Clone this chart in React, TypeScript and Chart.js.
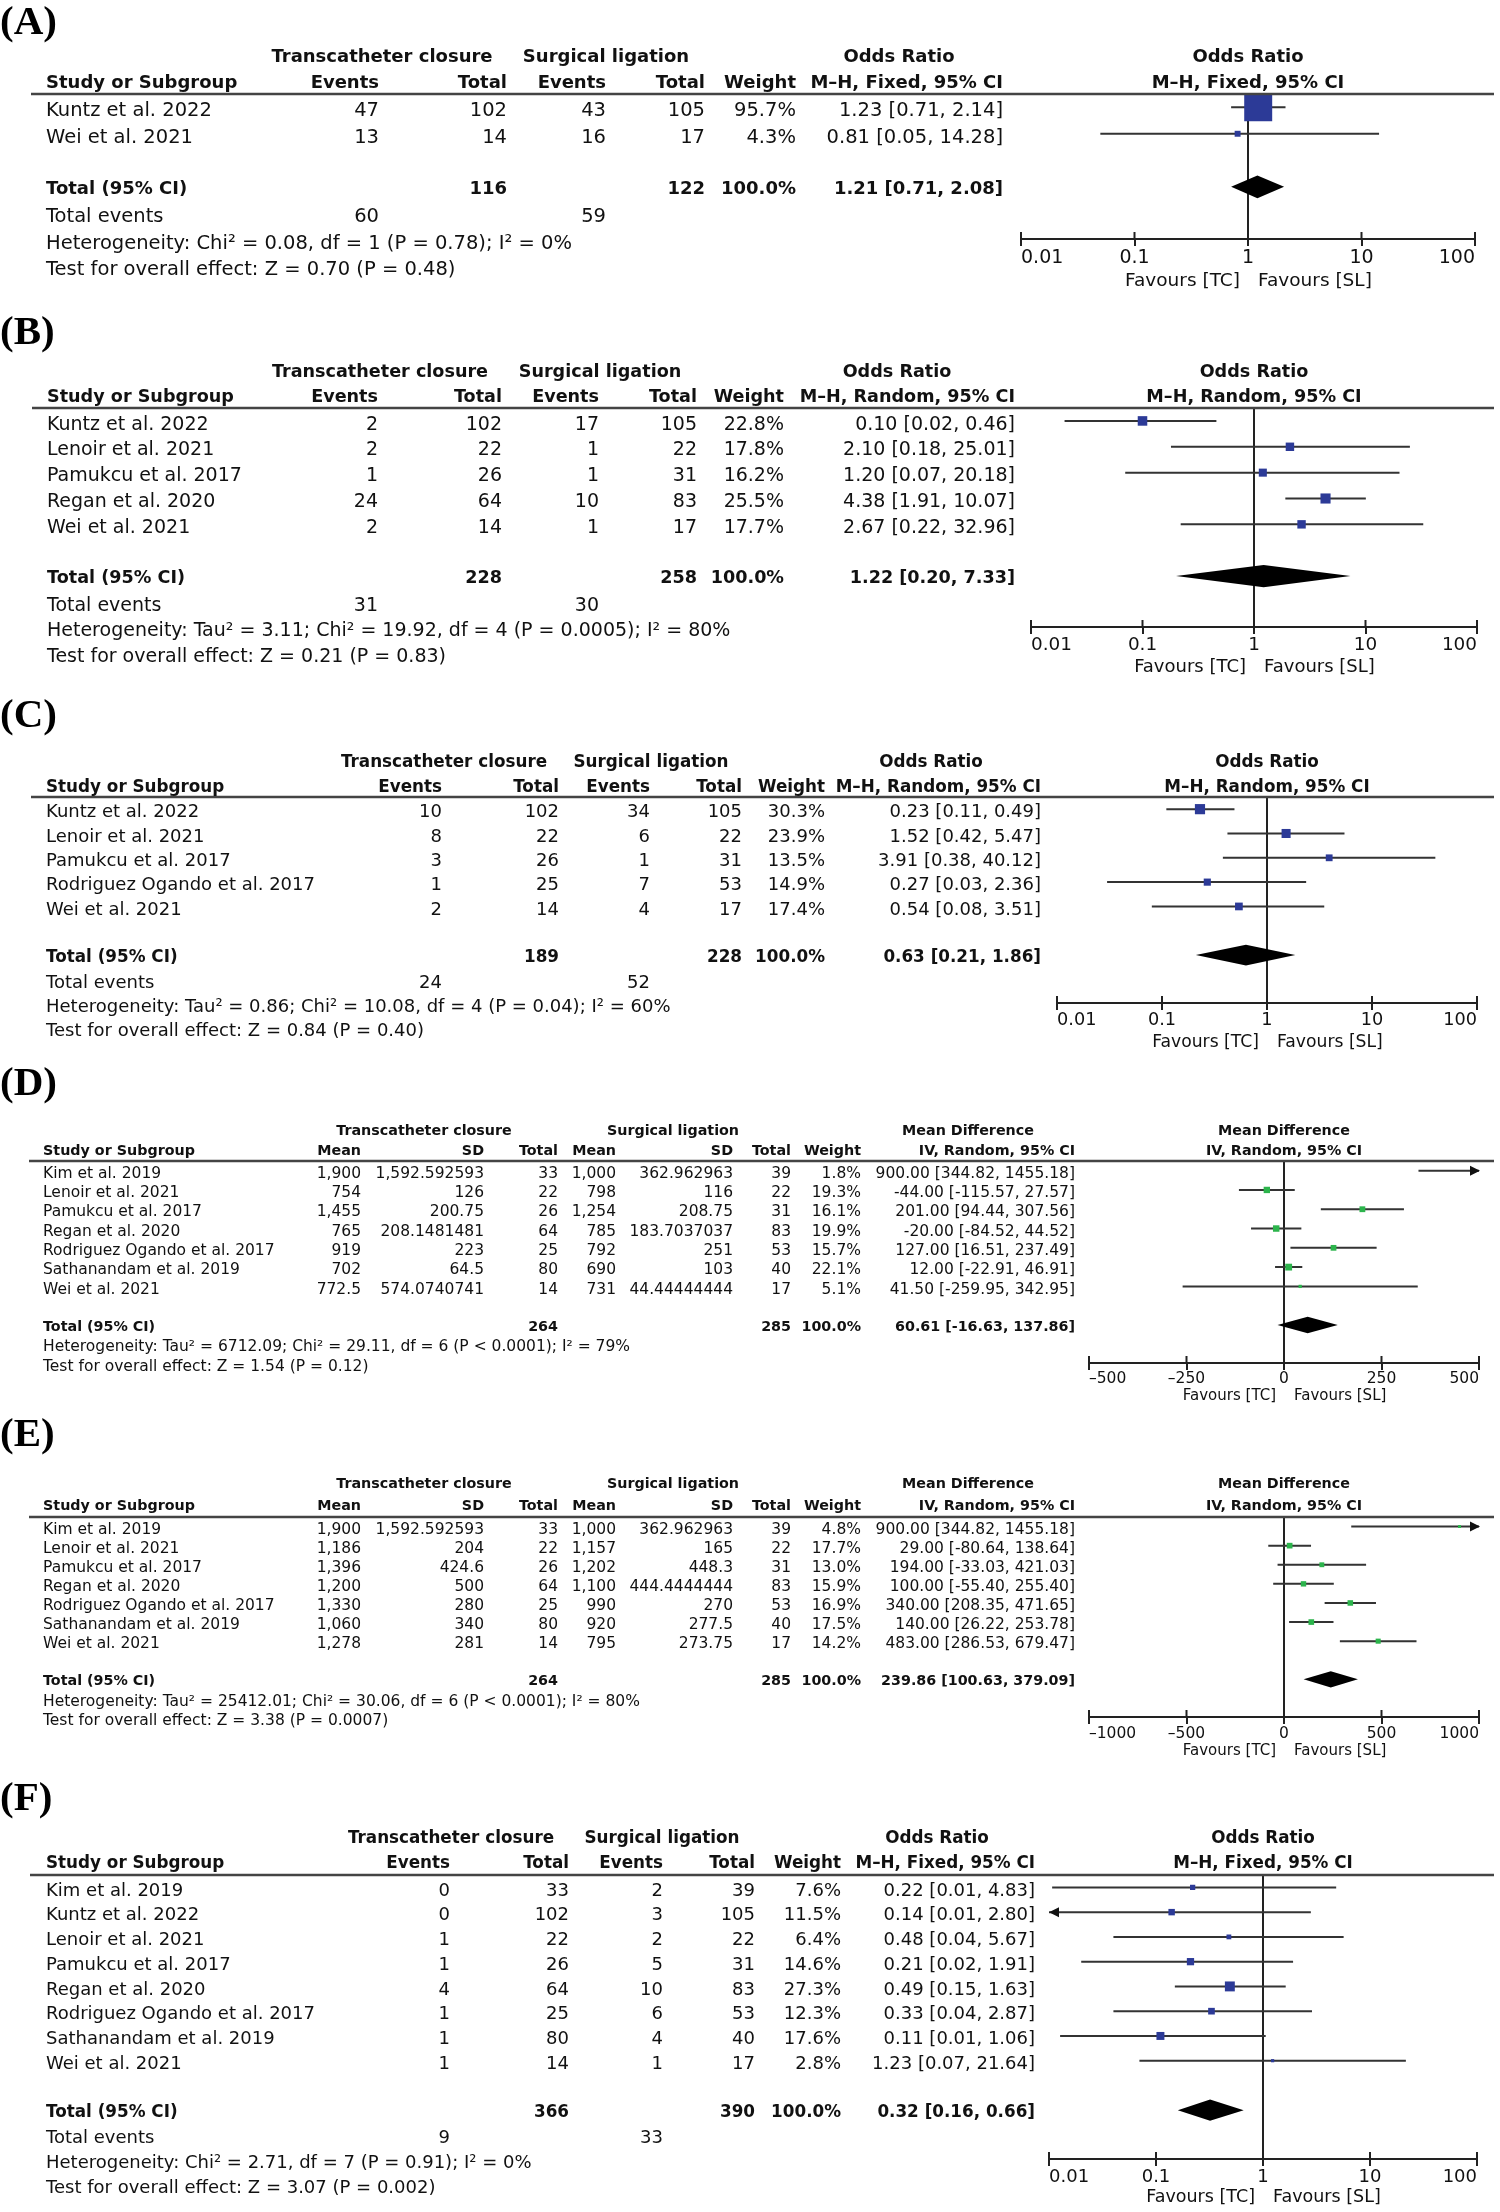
import React, { useEffect, useRef } from "react";
import { Chart, registerables } from "chart.js";
Chart.register(...registerables);

const SANS = "'DejaVu Sans', 'Noto Sans', sans-serif";
const SERIF = "'Liberation Serif', 'DejaVu Serif', serif";
const INK = "#111111";
const BLUE = "#2c3a97";
const GREEN = "#2cb44c";

// ---------- axis ticks ----------
const OR_TICKS = [0.01, 0.1, 1, 10, 100];
const D_TICKS = [-500, -250, 0, 250, 500];
const E_TICKS = [-1000, -500, 0, 500, 1000];

// ---------- Panel A ----------
const A_STUDY = ["Kuntz et al. 2022", "Wei et al. 2021"];
const A_EV_TC = [47, 13];
const A_N_TC = [102, 14];
const A_EV_SL = [43, 16];
const A_N_SL = [105, 17];
const A_WEIGHT = [95.7, 4.3];
const A_OR = [1.23, 0.81];
const A_LO = [0.71, 0.05];
const A_HI = [2.14, 14.28];
const A_TOTAL_N = [116, 122];
const A_TOTAL_OR = [1.21, 0.71, 2.08];
const A_TOTAL_EVENTS = [60, 59];
const A_HET = "Heterogeneity: Chi\u00b2 = 0.08, df = 1 (P = 0.78); I\u00b2 = 0%";
const A_TEST = "Test for overall effect: Z = 0.70 (P = 0.48)";

// ---------- Panel B ----------
const B_STUDY = ["Kuntz et al. 2022", "Lenoir et al. 2021", "Pamukcu et al. 2017", "Regan et al. 2020", "Wei et al. 2021"];
const B_EV_TC = [2, 2, 1, 24, 2];
const B_N_TC = [102, 22, 26, 64, 14];
const B_EV_SL = [17, 1, 1, 10, 1];
const B_N_SL = [105, 22, 31, 83, 17];
const B_WEIGHT = [22.8, 17.8, 16.2, 25.5, 17.7];
const B_OR = [0.1, 2.1, 1.2, 4.38, 2.67];
const B_LO = [0.02, 0.18, 0.07, 1.91, 0.22];
const B_HI = [0.46, 25.01, 20.18, 10.07, 32.96];
const B_TOTAL_N = [228, 258];
const B_TOTAL_OR = [1.22, 0.2, 7.33];
const B_TOTAL_EVENTS = [31, 30];
const B_HET = "Heterogeneity: Tau\u00b2 = 3.11; Chi\u00b2 = 19.92, df = 4 (P = 0.0005); I\u00b2 = 80%";
const B_TEST = "Test for overall effect: Z = 0.21 (P = 0.83)";

// ---------- Panel C ----------
const C_STUDY = ["Kuntz et al. 2022", "Lenoir et al. 2021", "Pamukcu et al. 2017", "Rodriguez Ogando et al. 2017", "Wei et al. 2021"];
const C_EV_TC = [10, 8, 3, 1, 2];
const C_N_TC = [102, 22, 26, 25, 14];
const C_EV_SL = [34, 6, 1, 7, 4];
const C_N_SL = [105, 22, 31, 53, 17];
const C_WEIGHT = [30.3, 23.9, 13.5, 14.9, 17.4];
const C_OR = [0.23, 1.52, 3.91, 0.27, 0.54];
const C_LO = [0.11, 0.42, 0.38, 0.03, 0.08];
const C_HI = [0.49, 5.47, 40.12, 2.36, 3.51];
const C_TOTAL_N = [189, 228];
const C_TOTAL_OR = [0.63, 0.21, 1.86];
const C_TOTAL_EVENTS = [24, 52];
const C_HET = "Heterogeneity: Tau\u00b2 = 0.86; Chi\u00b2 = 10.08, df = 4 (P = 0.04); I\u00b2 = 60%";
const C_TEST = "Test for overall effect: Z = 0.84 (P = 0.40)";

// ---------- Panel D ----------
const D_STUDY = ["Kim et al. 2019", "Lenoir et al. 2021", "Pamukcu et al. 2017", "Regan et al. 2020", "Rodriguez Ogando et al. 2017", "Sathanandam et al. 2019", "Wei et al. 2021"];
const D_MEAN_TC = ["1,900", "754", "1,455", "765", "919", "702", "772.5"];
const D_SD_TC = ["1,592.592593", "126", "200.75", "208.1481481", "223", "64.5", "574.0740741"];
const D_N_TC = [33, 22, 26, 64, 25, 80, 14];
const D_MEAN_SL = ["1,000", "798", "1,254", "785", "792", "690", "731"];
const D_SD_SL = ["362.962963", "116", "208.75", "183.7037037", "251", "103", "44.44444444"];
const D_N_SL = [39, 22, 31, 83, 53, 40, 17];
const D_WEIGHT = [1.8, 19.3, 16.1, 19.9, 15.7, 22.1, 5.1];
const D_MD = [900, -44, 201, -20, 127, 12, 41.5];
const D_LO = [344.82, -115.57, 94.44, -84.52, 16.51, -22.91, -259.95];
const D_HI = [1455.18, 27.57, 307.56, 44.52, 237.49, 46.91, 342.95];
const D_TOTAL_N = [264, 285];
const D_TOTAL_MD = [60.61, -16.63, 137.86];
const D_HET = "Heterogeneity: Tau\u00b2 = 6712.09; Chi\u00b2 = 29.11, df = 6 (P < 0.0001); I\u00b2 = 79%";
const D_TEST = "Test for overall effect: Z = 1.54 (P = 0.12)";

// ---------- Panel E ----------
const E_STUDY = ["Kim et al. 2019", "Lenoir et al. 2021", "Pamukcu et al. 2017", "Regan et al. 2020", "Rodriguez Ogando et al. 2017", "Sathanandam et al. 2019", "Wei et al. 2021"];
const E_MEAN_TC = ["1,900", "1,186", "1,396", "1,200", "1,330", "1,060", "1,278"];
const E_SD_TC = ["1,592.592593", "204", "424.6", "500", "280", "340", "281"];
const E_N_TC = [33, 22, 26, 64, 25, 80, 14];
const E_MEAN_SL = ["1,000", "1,157", "1,202", "1,100", "990", "920", "795"];
const E_SD_SL = ["362.962963", "165", "448.3", "444.4444444", "270", "277.5", "273.75"];
const E_N_SL = [39, 22, 31, 83, 53, 40, 17];
const E_WEIGHT = [4.8, 17.7, 13.0, 15.9, 16.9, 17.5, 14.2];
const E_MD = [900, 29, 194, 100, 340, 140, 483];
const E_LO = [344.82, -80.64, -33.03, -55.4, 208.35, 26.22, 286.53];
const E_HI = [1455.18, 138.64, 421.03, 255.4, 471.65, 253.78, 679.47];
const E_TOTAL_N = [264, 285];
const E_TOTAL_MD = [239.86, 100.63, 379.09];
const E_HET = "Heterogeneity: Tau\u00b2 = 25412.01; Chi\u00b2 = 30.06, df = 6 (P < 0.0001); I\u00b2 = 80%";
const E_TEST = "Test for overall effect: Z = 3.38 (P = 0.0007)";

// ---------- Panel F ----------
const F_STUDY = ["Kim et al. 2019", "Kuntz et al. 2022", "Lenoir et al. 2021", "Pamukcu et al. 2017", "Regan et al. 2020", "Rodriguez Ogando et al. 2017", "Sathanandam et al. 2019", "Wei et al. 2021"];
const F_EV_TC = [0, 0, 1, 1, 4, 1, 1, 1];
const F_N_TC = [33, 102, 22, 26, 64, 25, 80, 14];
const F_EV_SL = [2, 3, 2, 5, 10, 6, 4, 1];
const F_N_SL = [39, 105, 22, 31, 83, 53, 40, 17];
const F_WEIGHT = [7.6, 11.5, 6.4, 14.6, 27.3, 12.3, 17.6, 2.8];
const F_OR = [0.22, 0.14, 0.48, 0.21, 0.49, 0.33, 0.11, 1.23];
const F_LO = [0.0107, 0.007, 0.04, 0.02, 0.15, 0.04, 0.0127, 0.07];
const F_HI = [4.83, 2.8, 5.67, 1.91, 1.63, 2.87, 1.06, 21.64];
const F_TOTAL_N = [366, 390];
const F_TOTAL_OR = [0.32, 0.16, 0.66];
const F_TOTAL_EVENTS = [9, 33];
const F_HET = "Heterogeneity: Chi\u00b2 = 2.71, df = 7 (P = 0.91); I\u00b2 = 0%";
const F_TEST = "Test for overall effect: Z = 3.07 (P = 0.002)";

// ---------- builders ----------
const ciText = (e: number, l: number, h: number) => `${e.toFixed(2)} [${l.toFixed(2)}, ${h.toFixed(2)}]`;
const pct = (w: number) => `${w.toFixed(1)}%`;

function binPanel(sub: string, studies: string[], ev1: number[], n1: number[], ev2: number[], n2: number[], w: number[], est: number[], lo: number[], hi: number[], totN: number[], tot: number[], totEv: number[], het: string, test: string) {
  return {
    kind: "bin",
    effectName: "Odds Ratio",
    effectSub: sub,
    headers: ["Events", "Total", "Events", "Total", "Weight", sub],
    studies,
    cells: studies.map((_, i) => [String(ev1[i]), String(n1[i]), String(ev2[i]), String(n2[i]), pct(w[i]), ciText(est[i], lo[i], hi[i])]),
    weight: w, est, lo, hi,
    totalCells: [null, String(totN[0]), null, String(totN[1]), "100.0%", ciText(tot[0], tot[1], tot[2])],
    total: tot,
    totalEvents: [String(totEv[0]), null, String(totEv[1]), null, null, null],
    het, test,
    ticks: OR_TICKS,
  };
}

function contPanel(studies: string[], m1: string[], s1: string[], n1: number[], m2: string[], s2: string[], n2: number[], w: number[], est: number[], lo: number[], hi: number[], totN: number[], tot: number[], het: string, test: string, ticks: number[]) {
  const sub = "IV, Random, 95% CI";
  return {
    kind: "cont",
    effectName: "Mean Difference",
    effectSub: sub,
    headers: ["Mean", "SD", "Total", "Mean", "SD", "Total", "Weight", sub],
    studies,
    cells: studies.map((_, i) => [m1[i], s1[i], String(n1[i]), m2[i], s2[i], String(n2[i]), pct(w[i]), ciText(est[i], lo[i], hi[i])]),
    weight: w, est, lo, hi,
    totalCells: [null, null, String(totN[0]), null, null, String(totN[1]), "100.0%", ciText(tot[0], tot[1], tot[2])],
    total: tot,
    totalEvents: null,
    het, test,
    ticks,
  };
}

const DATA_A = binPanel("M\u2013H, Fixed, 95% CI", A_STUDY, A_EV_TC, A_N_TC, A_EV_SL, A_N_SL, A_WEIGHT, A_OR, A_LO, A_HI, A_TOTAL_N, A_TOTAL_OR, A_TOTAL_EVENTS, A_HET, A_TEST);
const DATA_B = binPanel("M\u2013H, Random, 95% CI", B_STUDY, B_EV_TC, B_N_TC, B_EV_SL, B_N_SL, B_WEIGHT, B_OR, B_LO, B_HI, B_TOTAL_N, B_TOTAL_OR, B_TOTAL_EVENTS, B_HET, B_TEST);
const DATA_C = binPanel("M\u2013H, Random, 95% CI", C_STUDY, C_EV_TC, C_N_TC, C_EV_SL, C_N_SL, C_WEIGHT, C_OR, C_LO, C_HI, C_TOTAL_N, C_TOTAL_OR, C_TOTAL_EVENTS, C_HET, C_TEST);
const DATA_D = contPanel(D_STUDY, D_MEAN_TC, D_SD_TC, D_N_TC, D_MEAN_SL, D_SD_SL, D_N_SL, D_WEIGHT, D_MD, D_LO, D_HI, D_TOTAL_N, D_TOTAL_MD, D_HET, D_TEST, D_TICKS);
const DATA_E = contPanel(E_STUDY, E_MEAN_TC, E_SD_TC, E_N_TC, E_MEAN_SL, E_SD_SL, E_N_SL, E_WEIGHT, E_MD, E_LO, E_HI, E_TOTAL_N, E_TOTAL_MD, E_HET, E_TEST, E_TICKS);
const DATA_F = binPanel("M\u2013H, Fixed, 95% CI", F_STUDY, F_EV_TC, F_N_TC, F_EV_SL, F_N_SL, F_WEIGHT, F_OR, F_LO, F_HI, F_TOTAL_N, F_TOTAL_OR, F_TOTAL_EVENTS, F_HET, F_TEST);

// ---------- layouts (positions & styles) ----------
const COLS_DE = [361, 484, 558, 616, 733, 791, 861, 1075];
const LAYOUTS: any[] = [
  { label: "(A)", labelY: 34, top: 0, height: 300, lineY: 94, axisY: 239, plotLeft: 1021, plotRight: 1475, h1: 62, h2: 88, studyX: 46, lineLeft: 31, cols: [379, 507, 606, 705, 796, 1003], centers: [382, 606, 899], fs: 19.5, bfs: 18, tfs: 19, ffs: 18.5, tickY: 261, favY: 286, sq: 2.86, color: BLUE },
  { label: "(B)", labelY: 344, top: 300, height: 390, lineY: 408, axisY: 627, plotLeft: 1031, plotRight: 1477, h1: 377, h2: 402, studyX: 47, lineLeft: 32, cols: [378, 502, 599, 697, 784, 1015], centers: [380, 600, 897], fs: 19, bfs: 17.6, tfs: 18.4, ffs: 18, tickY: 648, favY: 672, sq: 2.0, color: BLUE },
  { label: "(C)", labelY: 727, top: 690, height: 370, lineY: 797, axisY: 1003, plotLeft: 1057, plotRight: 1477, h1: 767, h2: 792, studyX: 46, lineLeft: 31, cols: [442, 559, 650, 742, 825, 1041], centers: [444, 651, 931], fs: 18, bfs: 16.8, tfs: 17.7, ffs: 17.2, tickY: 1023, favY: 1047, sq: 1.85, color: BLUE },
  { label: "(D)", labelY: 1095, top: 1060, height: 355, lineY: 1161, axisY: 1363, plotLeft: 1089, plotRight: 1479, h1: 1135, h2: 1155, studyX: 43, lineLeft: 29, cols: COLS_DE, centers: [424, 673, 968], fs: 15.5, bfs: 14.3, tfs: 15.5, ffs: 15, tickY: 1382, favY: 1400, sq: 1.45, color: GREEN },
  { label: "(E)", labelY: 1446, top: 1415, height: 360, lineY: 1517, axisY: 1717, plotLeft: 1089, plotRight: 1479, h1: 1488, h2: 1510, studyX: 43, lineLeft: 29, cols: COLS_DE, centers: [424, 673, 968], fs: 15.5, bfs: 14.3, tfs: 15.5, ffs: 15, tickY: 1737, favY: 1755, sq: 1.35, color: GREEN },
  { label: "(F)", labelY: 1810, top: 1775, height: 437, lineY: 1875, axisY: 2159, plotLeft: 1049, plotRight: 1477, h1: 1843, h2: 1868, studyX: 46, lineLeft: 30, cols: [450, 569, 663, 755, 841, 1035], centers: [451, 662, 937], fs: 18, bfs: 16.8, tfs: 18, ffs: 17.5, tickY: 2181, favY: 2202, sq: 1.9, color: BLUE },
];
const DATASETS: any[] = [DATA_A, DATA_B, DATA_C, DATA_D, DATA_E, DATA_F];

function drawText(ctx: CanvasRenderingContext2D, s: string, x: number, y: number, size: number, bold: boolean, align: CanvasTextAlign) {
  ctx.font = `${bold ? "bold " : ""}${size}px ${SANS}`;
  ctx.textAlign = align;
  ctx.textBaseline = "alphabetic";
  ctx.fillStyle = INK;
  ctx.fillText(s, x, y);
}

function buildChart(canvas: HTMLCanvasElement, L: any, D: any) {
  const n = D.studies.length;
  const totIdx = n + 1;
  const yMax = totIdx + 1.97;
  const isLog = D.kind === "bin";
  const ticks: number[] = D.ticks;
  const xmin = ticks[0];
  const xmax = ticks[ticks.length - 1];
  const nullVal = isLog ? 1 : 0;

  const ciPts: any[] = [];
  for (let i = 0; i < n; i++) {
    ciPts.push({ x: D.lo[i], y: i }, { x: D.hi[i], y: i }, { x: D.hi[i], y: null });
  }
  const shown = D.est.map((_: number, i: number) => i).filter((i: number) => D.est[i] >= xmin && D.est[i] <= xmax);
  const sqPts = shown.map((i: number) => ({ x: D.est[i], y: i }));
  const sqRad = shown.map((i: number) => (L.sq * Math.sqrt(D.weight[i])) / Math.SQRT2);
  const T = L.top;
  const tickPad = L.tickY - L.axisY - 7 - Math.round(0.76 * L.tfs);

  const plugin = {
    id: "forest",
    beforeDatasetsDraw(chart: any) {
      const { ctx, chartArea } = chart;
      const x0 = chart.scales.x.getPixelForValue(nullVal);
      ctx.save();
      ctx.strokeStyle = "#222";
      ctx.lineWidth = 2;
      ctx.beginPath();
      ctx.moveTo(x0, chartArea.top);
      ctx.lineTo(x0, chartArea.bottom);
      ctx.stroke();
      ctx.restore();
    },
    afterDatasetsDraw(chart: any) {
      const { ctx, chartArea } = chart;
      const xs = chart.scales.x;
      const ys = chart.scales.y;
      const spacing = Math.abs(ys.getPixelForValue(1) - ys.getPixelForValue(0));
      ctx.save();
      ctx.fillStyle = "#111";
      for (let i = 0; i < n; i++) {
        const y = ys.getPixelForValue(i);
        if (D.hi[i] > xmax) {
          const tip = chartArea.right + 1;
          ctx.beginPath();
          ctx.moveTo(tip, y);
          ctx.lineTo(tip - 10, y - 5);
          ctx.lineTo(tip - 10, y + 5);
          ctx.closePath();
          ctx.fill();
        }
        if (D.lo[i] < xmin) {
          const tip = chartArea.left;
          ctx.beginPath();
          ctx.moveTo(tip, y);
          ctx.lineTo(tip + 10, y - 5);
          ctx.lineTo(tip + 10, y + 5);
          ctx.closePath();
          ctx.fill();
        }
      }
      const yd = ys.getPixelForValue(totIdx);
      const h = 0.43 * spacing;
      ctx.fillStyle = "#000";
      ctx.beginPath();
      ctx.moveTo(xs.getPixelForValue(D.total[1]), yd);
      ctx.lineTo(xs.getPixelForValue(D.total[0]), yd - h);
      ctx.lineTo(xs.getPixelForValue(D.total[2]), yd);
      ctx.lineTo(xs.getPixelForValue(D.total[0]), yd + h);
      ctx.closePath();
      ctx.fill();
      ctx.restore();
    },
    afterDraw(chart: any) {
      const { ctx, chartArea } = chart;
      const xs = chart.scales.x;
      const ys = chart.scales.y;
      const yp = (i: number) => ys.getPixelForValue(i);
      const x0 = xs.getPixelForValue(nullVal);
      ctx.save();
      ctx.font = `bold 41px ${SERIF}`;
      ctx.textAlign = "left";
      ctx.textBaseline = "alphabetic";
      ctx.fillStyle = "#000";
      ctx.fillText(L.label, 0, L.labelY - T);
      ctx.strokeStyle = "#444";
      ctx.lineWidth = 2.5;
      ctx.beginPath();
      ctx.moveTo(L.lineLeft, chartArea.top);
      ctx.lineTo(1494, chartArea.top);
      ctx.stroke();
      ctx.strokeStyle = "#222";
      ctx.lineWidth = 2;
      ticks.forEach((t) => {
        const x = xs.getPixelForValue(t);
        ctx.beginPath();
        ctx.moveTo(x, chartArea.bottom);
        ctx.lineTo(x, chartArea.bottom - 7);
        ctx.stroke();
      });
      const h1 = L.h1 - T;
      const h2 = L.h2 - T;
      drawText(ctx, "Transcatheter closure", L.centers[0], h1, L.bfs, true, "center");
      drawText(ctx, "Surgical ligation", L.centers[1], h1, L.bfs, true, "center");
      drawText(ctx, D.effectName, L.centers[2], h1, L.bfs, true, "center");
      drawText(ctx, D.effectName, x0, h1, L.bfs, true, "center");
      drawText(ctx, "Study or Subgroup", L.studyX, h2, L.bfs, true, "left");
      D.headers.forEach((hd: string, k: number) => drawText(ctx, hd, L.cols[k], h2, L.bfs, true, "right"));
      drawText(ctx, D.effectSub, x0, h2, L.bfs, true, "center");
      const off = 0.4 * L.fs + 1;
      D.studies.forEach((s: string, i: number) => {
        const y = yp(i) + off;
        drawText(ctx, s, L.studyX, y, L.fs, false, "left");
        D.cells[i].forEach((c: string, k: number) => drawText(ctx, c, L.cols[k], y, L.fs, false, "right"));
      });
      let r = totIdx;
      let y = yp(r) + off - 1.5;
      drawText(ctx, "Total (95% CI)", L.studyX, y, L.bfs, true, "left");
      D.totalCells.forEach((c: string | null, k: number) => {
        if (c) drawText(ctx, c, L.cols[k], y, L.bfs, true, "right");
      });
      r++;
      if (D.totalEvents) {
        y = yp(r) + off;
        drawText(ctx, "Total events", L.studyX, y, L.fs, false, "left");
        D.totalEvents.forEach((c: string | null, k: number) => {
          if (c) drawText(ctx, c, L.cols[k], y, L.fs, false, "right");
        });
        r++;
      }
      drawText(ctx, D.het, L.studyX, yp(r) + off, L.fs, false, "left");
      r++;
      drawText(ctx, D.test, L.studyX, yp(r) + off, L.fs, false, "left");
      drawText(ctx, "Favours [TC]", x0 - 8, L.favY - T, L.ffs, false, "right");
      drawText(ctx, "Favours [SL]", x0 + 10, L.favY - T, L.ffs, false, "left");
      ctx.restore();
    },
  };

  return new Chart(canvas, {
    type: "scatter",
    data: {
      datasets: [
        {
          data: ciPts,
          showLine: true,
          borderColor: "#333",
          borderWidth: 2,
          pointRadius: 0,
          pointHoverRadius: 0,
          spanGaps: false,
          order: 2,
        } as any,
        {
          data: sqPts,
          pointStyle: "rect",
          pointRadius: sqRad,
          pointHoverRadius: sqRad,
          backgroundColor: L.color,
          borderWidth: 0,
          order: 1,
        } as any,
      ],
    },
    options: {
      responsive: false,
      animation: false,
      devicePixelRatio: 1,
      events: [],
      layout: {
        autoPadding: false,
        padding: { left: L.plotLeft, right: 1500 - L.plotRight, top: L.lineY - T, bottom: 0 },
      },
      plugins: { legend: { display: false }, tooltip: { enabled: false }, title: { display: false } },
      scales: {
        x: {
          type: isLog ? "logarithmic" : "linear",
          min: xmin,
          max: xmax,
          afterBuildTicks: (s: any) => {
            s.ticks = ticks.map((v) => ({ value: v }));
          },
          afterFit: (s: any) => {
            s.height = T + L.height - L.axisY;
          },
          grid: { drawOnChartArea: false, drawTicks: true, tickLength: 7, color: "#222", lineWidth: 2 },
          border: { display: true, color: "#222", width: 2 },
          ticks: {
            align: "inner",
            padding: tickPad,
            color: INK,
            autoSkip: false,
            maxRotation: 0,
            font: { family: SANS, size: L.tfs },
            callback: (v: any) => String(v).replace("-", "\u2013"),
          },
        } as any,
        y: { type: "linear", display: false, reverse: true, min: -0.5, max: yMax },
      },
    } as any,
    plugins: [plugin],
  });
}

function ForestPanel({ L, D }: { L: any; D: any }) {
  const ref = useRef<HTMLCanvasElement>(null);
  useEffect(() => {
    const chart = buildChart(ref.current as HTMLCanvasElement, L, D);
    return () => chart.destroy();
  }, [L, D]);
  return (
    <canvas
      ref={ref}
      width={1500}
      height={L.height}
      style={{ position: "absolute", left: 0, top: L.top, width: 1500, height: L.height, display: "block" }}
    />
  );
}

export default function App() {
  return (
    <div style={{ position: "absolute", left: 0, top: 0, width: 1500, height: 2212, background: "#fff" }}>
      {LAYOUTS.map((L, i) => (
        <ForestPanel key={L.label} L={L} D={DATASETS[i]} />
      ))}
    </div>
  );
}
